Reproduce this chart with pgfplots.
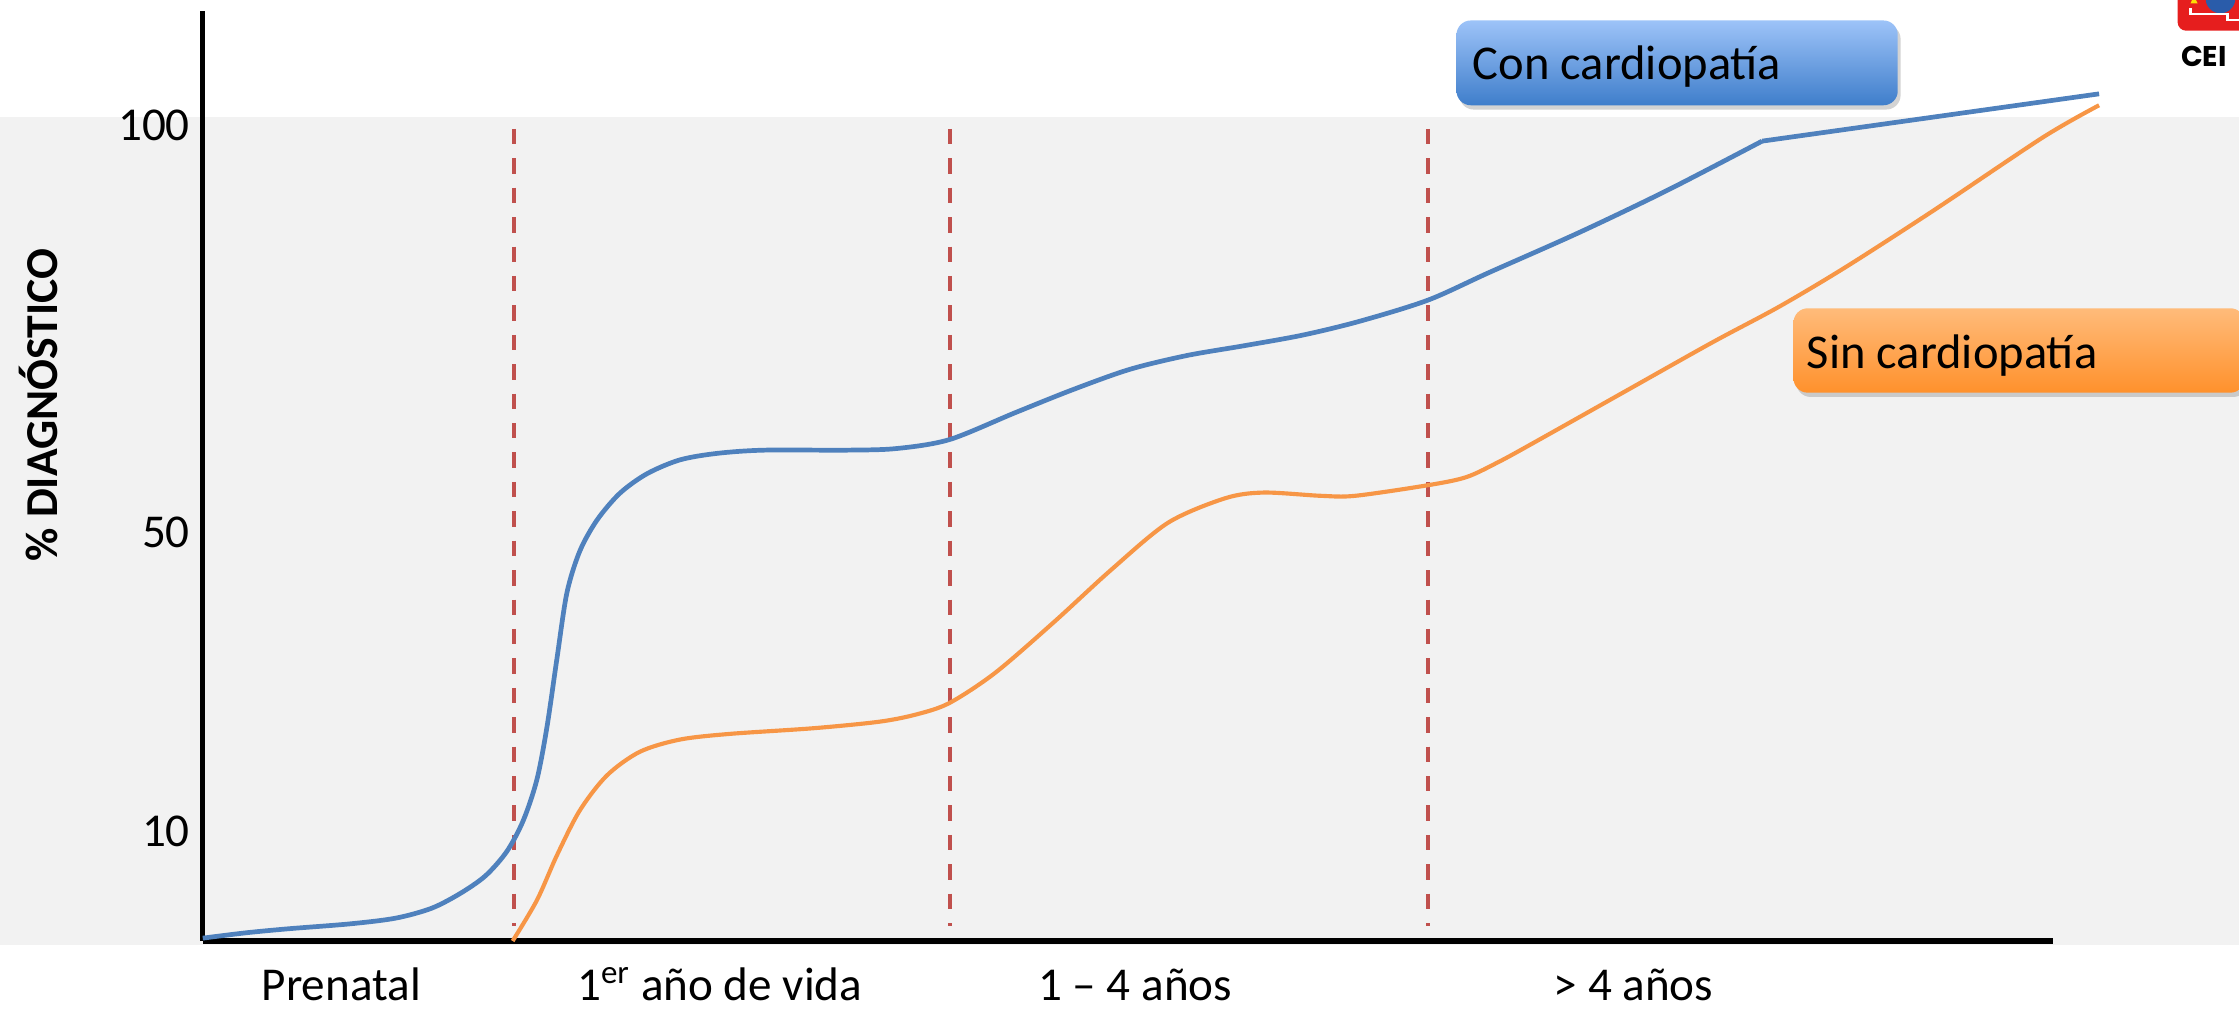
\documentclass[border=0pt]{standalone}
\usepackage{fontspec}
\setmainfont{Carlito}
\newfontfamily\logofont{Poppins}
\usepackage{pgfplots}
\pgfplotsset{compat=1.18}
\usetikzlibrary{shadows}
\definecolor{cblue}{HTML}{4F81BD}
\definecolor{corange}{HTML}{F79646}
\definecolor{cred}{HTML}{C0504D}
\definecolor{bandgray}{HTML}{F2F2F2}
\definecolor{bbtop}{HTML}{9DC3F8}
\definecolor{bbbot}{HTML}{3F7ECB}
\definecolor{botop}{HTML}{FFBB7A}
\definecolor{bobot}{HTML}{FF912C}
\definecolor{logored}{HTML}{E61E1E}
\definecolor{logoblue}{HTML}{2A5CAA}

\begin{document}
\begin{tikzpicture}
\begin{axis}[
  set layers,
  x=0.5pt, y=2.855pt,
  xmin=0, xmax=1296, ymin=0, ymax=114,
  axis lines=left,
  axis line style={-, line width=1.8pt, black},
  clip=false,
  xtick={97,362,653,1002},
  xticklabels={Prenatal, 1\textsuperscript{er} año de vida, 1 – 4 años, > 4 años},
  ytick={13.5,50.1,100},
  yticklabels={10,50,100},
  major tick length=0,
  xticklabel style={font=\fontsize{16.5}{20}\selectfont, anchor=base, inner sep=0pt, yshift=-21pt},
  yticklabel style={font=\fontsize{16.5}{20}\selectfont, anchor=east, xshift=-1pt},
]
\begin{pgfonlayer}{axis background}
\fill[bandgray] (axis cs:-142,-0.53) rectangle (axis cs:1426,101.05);
\end{pgfonlayer}

% vertical dashed separators
\addplot[cred, line width=1.4pt, dash pattern=on 5.4pt off 4.9pt] coordinates {(218,99.6) (218,1.9)};
\addplot[cred, line width=1.4pt, dash pattern=on 5.4pt off 4.9pt] coordinates {(523,99.6) (523,1.9)};
\addplot[cred, line width=1.4pt, dash pattern=on 5.4pt off 4.9pt] coordinates {(858,99.6) (858,1.9)};

% Con cardiopatia
\addplot[cblue, line width=1.65pt, smooth, tension=0.5] coordinates {
(0,0.35) (30,1.0) (60,1.5) (103,2.1) (135,2.8) (160,4.0) (180,5.8) (198,8.0)
(213,11.0) (224.5,14.8) (234,19.8) (241,26.2) (248,34.6) (255,42.7) (264,47.8)
(276,51.6) (292,54.9) (311,57.3) (334,59.0) (360,59.8) (393,60.2) (451,60.2)
(486,60.4) (523,61.5) (569,64.8) (609,67.6) (649,70.1) (689,71.8) (729,73.0)
(770,74.3) (810,76.0) (858,78.6) (901,82.0) (964,86.9) (1026,92.1) (1092,98.1)};
\addplot[cblue, line width=1.65pt] coordinates {(1092,98.1) (1328,103.9)};

% Sin cardiopatia
\addplot[corange, line width=1.45pt, smooth, tension=0.5] coordinates {
(217,0) (234,5.0) (248,10.5) (264,16.0) (283,20.3) (306,23.2) (334,24.7)
(369,25.4) (428,26.1) (474,26.9) (500,27.8) (523,29.2) (555,32.9) (596,39.1)
(636,45.5) (676,51.3) (716,54.3) (743,55.0) (783,54.6) (807,54.6) (858,55.9)
(885,56.9) (908,58.8) (932,61.1) (995,67.3) (1057,73.4) (1104,77.8) (1151,82.7)
(1213,89.7) (1289,98.6) (1328,102.5)};

% y label
\node[rotate=90, font=\fontsize{16}{19}\selectfont\bfseries] at (axis cs:-115,65.7) {\% DIAGNÓSTICO};

% legend boxes
\shade[top color=bbtop, bottom color=bbbot, rounded corners=5pt,
  drop shadow={opacity=0.35, shadow xshift=1pt, shadow yshift=-1.5pt}]
  (axis cs:878,102.5) rectangle (axis cs:1187,112.9);
\node[anchor=base west, inner sep=0pt, font=\fontsize{17}{20}\selectfont] at (axis cs:889,105.6) {Con cardiopatía};
\shade[top color=botop, bottom color=bobot, rounded corners=5pt,
  drop shadow={opacity=0.35, shadow xshift=1pt, shadow yshift=-1.5pt}]
  (axis cs:1114,67.25) rectangle (axis cs:1430,77.6);
\node[anchor=base west, inner sep=0pt, font=\fontsize{17}{20}\selectfont] at (axis cs:1123,70.2) {Sin cardiopatía};

% logo (partly cut at the right edge)
\fill[logored, rounded corners=3pt] (axis cs:1383,116.5) rectangle (axis cs:1440,111.64);
\fill[logoblue] (axis cs:1413,115.6) circle[radius=5.2pt];
\draw[white, line width=0.8pt] (axis cs:1392,114.4) -- (axis cs:1392,113.7) -- (axis cs:1418,113.7) -- (axis cs:1418,113.0) -- (axis cs:1440,113.0);
\fill[yellow!80!orange] (axis cs:1392,115.0) -- (axis cs:1397,115.0) -- (axis cs:1394.5,115.9) -- cycle;
\node[anchor=base west, inner sep=0pt, font=\logofont\bfseries\fontsize{10}{12}\selectfont] at (axis cs:1385,107.2) {CEI};

\coordinate (BL) at (axis cs:-142,-8.58);
\coordinate (TR) at (axis cs:1426,115.41);
\end{axis}
\pgfresetboundingbox
\useasboundingbox (BL) rectangle (TR);
\end{tikzpicture}
\end{document}
